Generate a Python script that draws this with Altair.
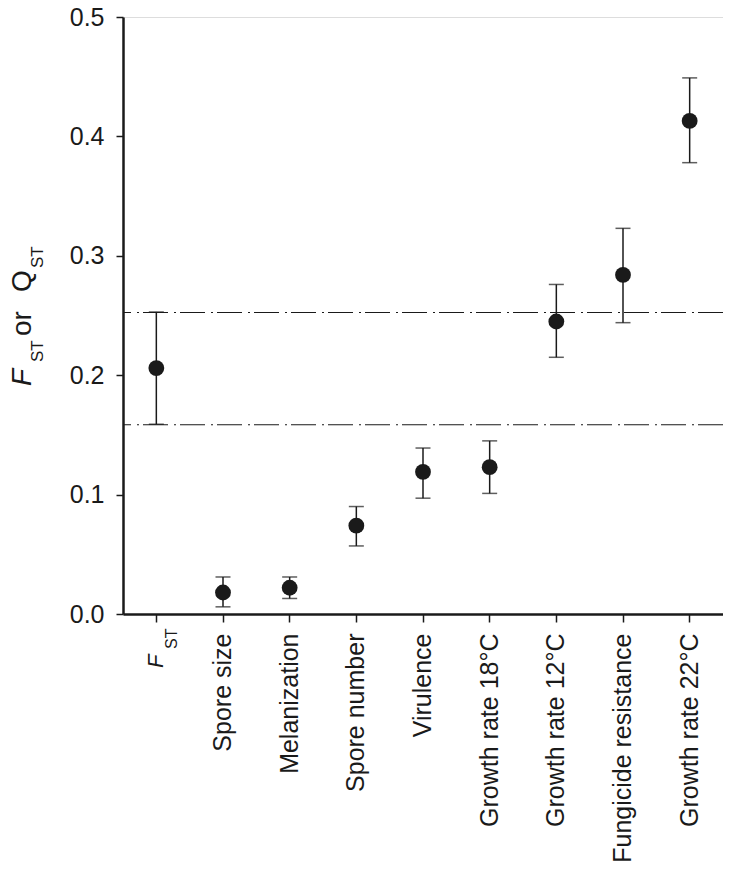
import altair as alt
import pandas as pd

categories = ["FST", "Spore size", "Melanization", "Spore number", "Virulence",
              "Growth rate 18°C", "Growth rate 12°C", "Fungicide resistance", "Growth rate 22°C"]
values = [0.206, 0.018, 0.022, 0.074, 0.119, 0.123, 0.245, 0.284, 0.413]
upper = [0.253, 0.031, 0.031, 0.090, 0.139, 0.145, 0.276, 0.323, 0.449]
lower = [0.159, 0.006, 0.013, 0.057, 0.097, 0.101, 0.215, 0.244, 0.378]
ref_lines = [0.2525, 0.1585]
y_ticks = [0.0, 0.1, 0.2, 0.3, 0.4, 0.5]

FONT = "Liberation Sans"
INK = "#1a1a1a"

df = pd.DataFrame({"cat": categories, "val": values, "hi": upper, "lo": lower})
ref_df = pd.DataFrame({"y": ref_lines})

xenc = alt.X("cat:N", sort=categories,
             scale=alt.Scale(type="band", paddingInner=0, paddingOuter=0),
             axis=alt.Axis(title=None, labelAngle=-90, labelAlign="right", labelBaseline="middle",
                           labelFontSize=25, labelFont=FONT, labelColor=INK, labelPadding=11,
                           labelLimit=0, labelOverlap=False,
                           tickSize=8, tickWidth=1.5, tickColor=INK,
                           domainWidth=2.5, domainColor=INK,
                           labelExpr="datum.value == 'FST' ? '' : datum.value"))
yscale = alt.Scale(domain=[0, 0.5], nice=False, zero=True)
yaxis = alt.Axis(title=None, values=y_ticks, format=".1f", labelFontSize=25, labelFont=FONT,
                 labelColor=INK, labelPadding=12, tickSize=7, tickWidth=1.5, tickColor=INK,
                 domainWidth=2.5, domainColor=INK, grid=False)

base = alt.Chart(df)

rules = alt.Chart(ref_df).mark_rule(color=INK, strokeWidth=1.2, strokeDash=[25, 4, 2, 6]).encode(
    y=alt.Y("y:Q", scale=yscale, axis=yaxis))

bars = base.mark_rule(color=INK, strokeWidth=1.5).encode(
    x=xenc, y=alt.Y("lo:Q", scale=yscale, axis=yaxis), y2="hi:Q")
cap_hi = base.mark_tick(color=INK, size=15, thickness=1.5, orient="horizontal").encode(
    x=xenc, y=alt.Y("hi:Q", scale=yscale))
cap_lo = base.mark_tick(color=INK, size=15, thickness=1.5, orient="horizontal").encode(
    x=xenc, y=alt.Y("lo:Q", scale=yscale))
pts = base.mark_point(filled=True, shape="circle", size=250, color=INK, opacity=1).encode(
    x=xenc, y=alt.Y("val:Q", scale=yscale))


def txt(s, x, y, size, italic=False):
    return alt.Chart(pd.DataFrame({"t": [s]})).mark_text(
        angle=270, align="left", baseline="alphabetic", font=FONT, fontSize=size,
        fontStyle="italic" if italic else "normal", color=INK
    ).encode(x=alt.value(x), y=alt.value(y), text="t:N")


# y-axis title: F_ST or Q_ST  (plot origin at page x=123, y=17)
title_parts = [
    txt("F", -92, 369, 28, italic=True),
    txt("ST", -80, 345, 17),
    txt("or", -92, 319, 28),
    txt("Q", -92, 275, 28),
    txt("ST", -80, 251, 17),
]
# x label for first category: F_ST
fst_parts = [
    txt("F", 40, 651, 22, italic=True),
    txt("ST", 54, 632, 16),
]

chart = alt.layer(rules, bars, cap_hi, cap_lo, pts, *title_parts, *fst_parts).properties(
    width=600, height=597,
    autosize=alt.AutoSizeParams(type="none"),
    padding={"left": 115, "top": 9, "right": 0, "bottom": 250},
).configure_view(stroke=None).configure(background="white")

chart.save("out.html", embed_options={"renderer": "svg", "actions": False})
